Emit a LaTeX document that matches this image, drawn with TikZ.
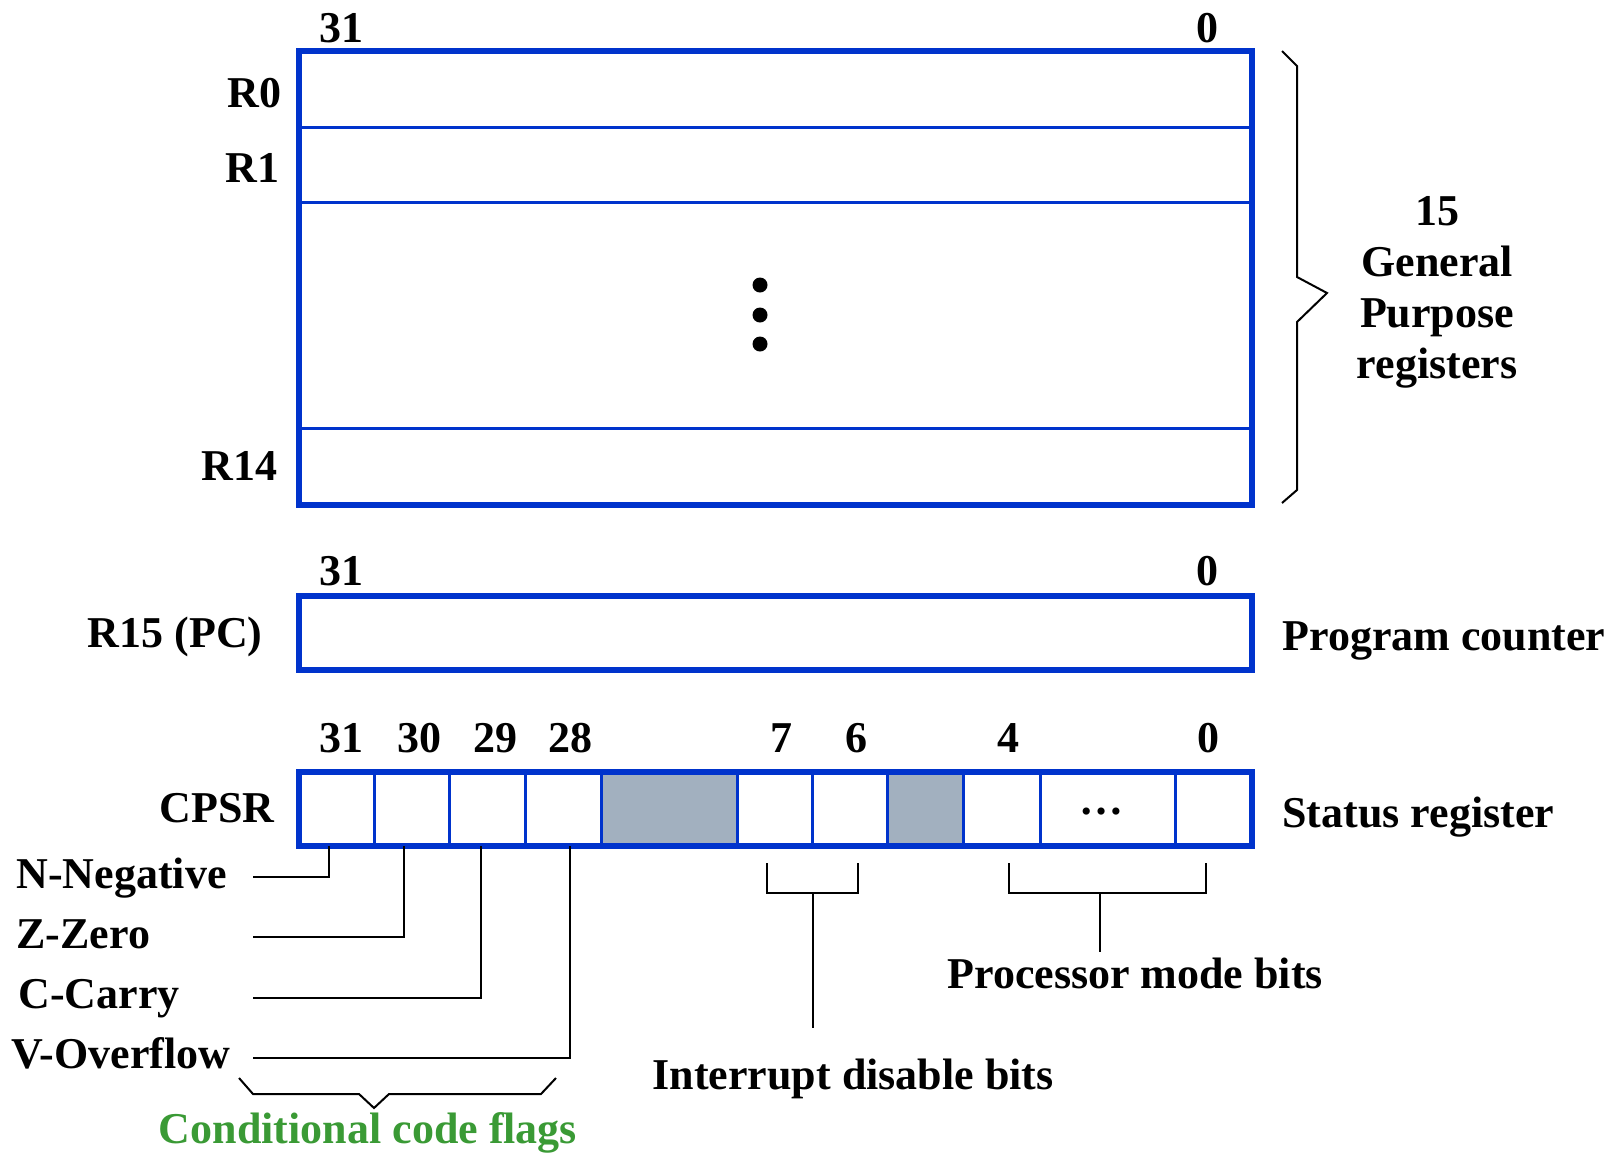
\documentclass[tikz,border=0pt]{standalone}
\usepackage{fontspec}
\setmainfont{Liberation Serif}
\definecolor{regblue}{HTML}{0033CC}
\definecolor{resgray}{HTML}{A2B0BF}
\definecolor{flaggreen}{HTML}{3A9A35}
\newcommand{\lblfont}{\bfseries\fontsize{22}{25.5}\selectfont}
\begin{document}
\begin{tikzpicture}[x=0.5pt,y=-0.5pt,
  lbl/.style={font=\lblfont, inner sep=0pt, anchor=base},
  lblr/.style={lbl, anchor=base east},
  lbll/.style={lbl, anchor=base west},
  regline/.style={draw=regblue, line width=3pt},
  divline/.style={draw=regblue, line width=1.5pt},
  wire/.style={draw=black, line width=1pt}]
\useasboundingbox (0,0) rectangle (1612,1152);

% ---- general purpose registers R0..R14
\foreach \yy in {127,202,428} \draw[divline] (299,\yy) -- (1251.5,\yy);
\draw[regline] (299,50.5) rectangle (1251.5,504.5);
\foreach \yy in {285,315,344} \fill (760,\yy) circle (7.5);
\node[lbl] (gtop31) at (341,42) {31};
\node[lbl] (gtop0) at (1207,42) {0};
\node[lblr] (r0) at (282,107) {R0};
\node[lblr] (r1) at (280,182) {R1};
\node[lblr] (r14) at (278,480) {R14};
\draw[wire] (1282,51) -- (1297,66) -- (1297,277) -- (1327,293) -- (1297,322) -- (1297,490) -- (1282,503);
\node[lbl] (gp1) at (1437,225) {15};
\node[lbl] (gp2) at (1437,276) {General};
\node[lbl] (gp3) at (1437,327) {Purpose};
\node[lbl] (gp4) at (1437,378) {registers};

% ---- program counter
\draw[regline] (299,596) rectangle (1251.5,670);
\node[lbl] (ptop31) at (341,585) {31};
\node[lbl] (ptop0) at (1207,585) {0};
\node[lblr] (r15) at (263,647) {R15 (PC)};
\node[lbll] (pclbl) at (1282,650) {Program counter};

% ---- status register
\fill[resgray] (601,772) rectangle (737,846);
\fill[resgray] (887,772) rectangle (963,846);
\foreach \xx in {374,449,525,601,737,812,887,963,1040,1175}
  \draw[divline] (\xx,772) -- (\xx,846);
\draw[regline] (299,772) rectangle (1251.5,846);
\foreach \bit/\xx in {31/341,30/419,29/495,28/570,7/781,6/856,4/1008,0/1208}
  \node[lbl] (s\bit) at (\xx,752) {\bit};
\node[lbl] (sdots) at (1101,814) {\ldots};
\node[lblr] (cpsr) at (275,822) {CPSR};
\node[lbll] (srlbl) at (1282,827) {Status register};

% ---- condition flags
\coordinate (b31) at (329,846);
\coordinate (b30) at (404,846);
\coordinate (b29) at (481,846);
\coordinate (b28) at (570,846);
\coordinate (wN) at (253,877);
\coordinate (wZ) at (253,937);
\coordinate (wC) at (253,998);
\coordinate (wV) at (253,1058);
\node[lbll] (fN) at (16,888) {N-Negative};
\node[lbll] (fZ) at (16,948) {Z-Zero};
\node[lbll] (fC) at (18,1008) {C-Carry};
\node[lbll] (fV) at (11,1068) {V-Overflow};
\draw[wire] (wN) -| (b31);
\draw[wire] (wZ) -| (b30);
\draw[wire] (wC) -| (b29);
\draw[wire] (wV) -| (b28);
\draw[wire] (239,1078) -- (253,1094) -- (359,1094) -- (374,1108) -- (389,1094) -- (541,1094) -- (556,1078);
\node[lbl, text=flaggreen] (ccf) at (368,1143) {Conditional code flags};

% ---- interrupt and mode bits
\coordinate (istem) at (813,1028);
\coordinate (mstem) at (1100,952);
\draw[wire] (767,863) -- (767,893) -- (858,893) -- (858,863);
\draw[wire] (813,893) -- (istem);
\draw[wire] (1009,863) -- (1009,893) -- (1206,893) -- (1206,863);
\draw[wire] (1100,893) -- (mstem);
\node[lbll] (pmb) at (947,988) {Processor mode bits};
\node[lblr] (idb) at (1054,1089) {Interrupt disable bits};
\end{tikzpicture}
\end{document}
